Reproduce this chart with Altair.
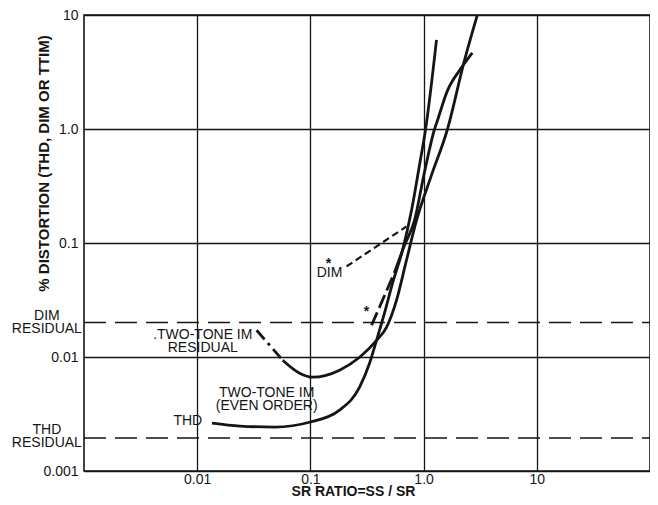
import altair as alt
import pandas as pd

# ---- data (log-log plot) ----
x_ticks = [0.01, 0.1, 1, 10]
x_tick_labels = ["0.01", "0.1", "1.0", "10"]
y_ticks = [0.001, 0.01, 0.1, 1, 10]
y_tick_labels = ["0.001", "0.01", "0.1", "1.0", "10"]

# THD / two-tone IM (even order) curve
thd_x = [0.0135, 0.0238, 0.0483, 0.100, 0.181, 0.272, 0.333, 0.384, 0.451, 0.531, 0.650, 0.781, 0.918, 1.04, 1.30]
thd_y = [0.00263, 0.00248, 0.00243, 0.00269, 0.00342, 0.00543, 0.00881, 0.0140, 0.0242, 0.0442, 0.0859, 0.192, 0.477, 0.985, 6.04]

# two-tone IM residual curve: dash-dot start, then solid
res_dd_x = [0.0335, 0.0437, 0.0569]
res_dd_y = [0.01715, 0.01267, 0.00937]
res_x = [0.0569, 0.0803, 0.105, 0.181, 0.272, 0.384, 0.470, 0.576, 0.705, 0.864, 1.17, 1.62, 2.29, 2.98]
res_y = [0.00937, 0.00721, 0.00665, 0.00766, 0.00995, 0.0140, 0.0182, 0.0314, 0.0703, 0.157, 0.390, 0.985, 3.96, 10.0]

# long-dash curve (marked *) and its solid continuation
ttim_dash_x = [0.347, 0.433, 0.553]
ttim_dash_y = [0.0190, 0.0314, 0.0552]
ttim_x = [0.553, 0.677, 0.830, 1.016, 1.245, 1.323, 1.621, 2.154, 2.693]
ttim_y = [0.0552, 0.0951, 0.157, 0.414, 0.985, 1.181, 2.161, 3.437, 4.650]

# DIM short-dash line
dim_x = [0.2085, 0.705]
dim_y = [0.0623, 0.1395]

# residual levels
dim_residual = 0.0201
thd_residual = 0.00195
x_span = [0.001, 100]

# annotations (multi-line blocks use "\n"; y is the first line's centre)
ann_text = ["DIM", ".TWO-TONE IM\nRESIDUAL", "TWO-TONE IM\n(EVEN ORDER)", "THD",
            "DIM\nRESIDUAL", "THD\nRESIDUAL"]
ann_x = [0.1476, 0.01120, 0.04110, 0.00826, 0.00047, 0.00047]
ann_y = [0.0541, 0.0155, 0.004817, 0.002739, 0.02273, 0.002285]
star_text = ["*", "*"]
star_x = [0.1447, 0.3131]
star_y = [0.0648, 0.0249]

INK = "#151515"
FONT = "Liberation Sans"


def label_expr(values, labels):
    expr = "'" + labels[-1] + "'"
    for v, l in reversed(list(zip(values[:-1], labels[:-1]))):
        expr = f"datum.value < {v * 3} ? '{l}' : ({expr})"
    return expr


x_scale = alt.Scale(type="log", domain=[0.001, 100])
y_scale = alt.Scale(type="log", domain=[0.001, 10])

x_enc = alt.X(
    "x:Q", scale=x_scale,
    axis=alt.Axis(
        values=x_ticks, labelExpr=label_expr(x_ticks, x_tick_labels),
        title="SR RATIO=SS / SR", grid=True, gridColor=INK, gridWidth=1.3,
        domain=False, ticks=False, labelFont=FONT, labelFontSize=14, labelColor=INK,
        labelPadding=1, labelFlush=False, labelOverlap=False,
        titleFont=FONT, titleFontSize=14, titleFontWeight="bold", titleColor=INK,
        titleX=269, titleY=24, titleAlign="center", titleBaseline="alphabetic",
    ),
)
y_enc = alt.Y(
    "y:Q", scale=y_scale,
    axis=alt.Axis(
        values=y_ticks, labelExpr=label_expr(y_ticks, y_tick_labels),
        title="% DISTORTION (THD, DIM OR TTIM)", grid=True, gridColor=INK, gridWidth=1.3,
        domain=False, ticks=False, labelFont=FONT, labelFontSize=14, labelColor=INK,
        labelPadding=6, labelFlush=False, labelOverlap=False, labelBaseline="middle",
        titleFont=FONT, titleFontSize=15, titleFontWeight="bold", titleColor=INK,
        titleX=-41, titleY=148, titleAngle=270, titleAlign="center", titleBaseline="middle",
    ),
)


def frame(xs, ys):
    return pd.DataFrame({"x": xs, "y": ys, "o": list(range(len(xs)))})


def line(df, width, dash=None):
    kw = dict(color=INK, strokeWidth=width, strokeJoin="round", strokeCap="butt",
              interpolate="monotone")
    if dash:
        kw["strokeDash"] = dash
    return alt.Chart(df).mark_line(**kw).encode(x=x_enc, y=y_enc, order="o:Q")


layers = [
    line(frame(x_span, [dim_residual] * 2), 1.4, [22, 9]),
    line(frame(x_span, [thd_residual] * 2), 1.4, [22, 9]),
    line(frame(thd_x, thd_y), 2.8),
    line(frame(res_dd_x, res_dd_y), 2.8, [12, 5, 3, 5]),
    line(frame(res_x, res_y), 2.8),
    line(frame(ttim_dash_x, ttim_dash_y), 2.8, [14, 5]),
    line(frame(ttim_x, ttim_y), 2.8),
    line(frame(dim_x, dim_y), 2.2, [7, 4]),
]

ann = pd.DataFrame({"x": ann_x, "y": ann_y, "t": ann_text})
text_layer = alt.Chart(ann).mark_text(
    font=FONT, fontSize=14, color=INK, align="center", baseline="middle",
    lineBreak="\n", lineHeight=13,
).encode(x=x_enc, y=y_enc, text="t:N")

stars = pd.DataFrame({"x": star_x, "y": star_y, "t": star_text})
star_layer = alt.Chart(stars).mark_text(
    font=FONT, fontSize=14, fontWeight="bold", color=INK, align="center", baseline="middle"
).encode(x=x_enc, y=y_enc, text="t:N")

chart = alt.layer(*layers, text_layer, star_layer).properties(
    width=566, height=456, autosize="none",
    padding={"left": 76, "top": 7, "right": 0, "bottom": 26},
    background="white",
).configure_view(stroke=INK, strokeWidth=1.6)

chart.save("out.html", embed_options={"renderer": "svg", "actions": False})
